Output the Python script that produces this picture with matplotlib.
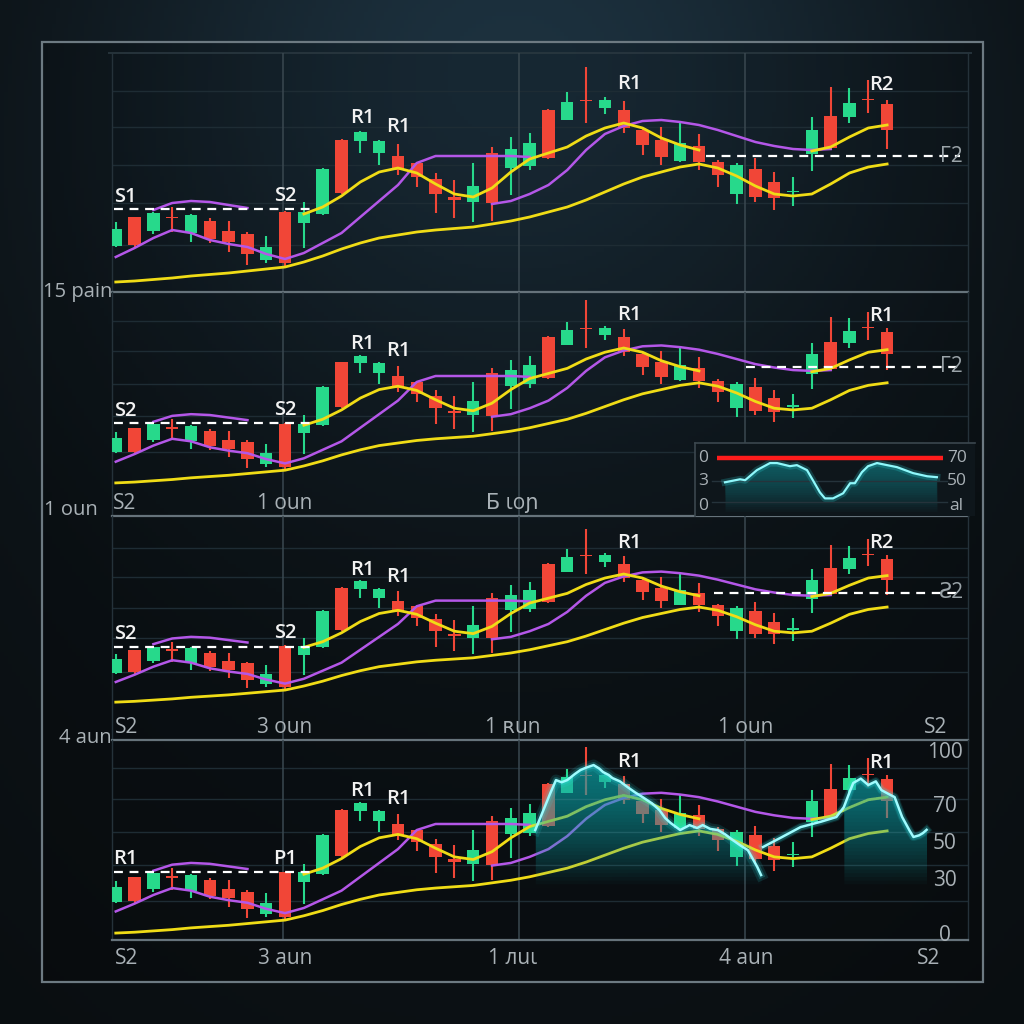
import numpy as np
import matplotlib
matplotlib.use("Agg")
import matplotlib.pyplot as plt
from matplotlib.patches import Rectangle
from matplotlib.transforms import blended_transform_factory

plt.rcParams['font.family'] = ['Open Sans', 'DejaVu Sans']

# ---------------- data ----------------
candle_open = [54, 83, 69, 82.5, 67, 79, 69, 66, 40, 88, 77, 86, 160, 159, 147, 144, 137, 121, 103, 98,
               147, 132, 134, 190, 180, 199.5, 192, 190, 170, 160, 139, 154, 138, 106, 131, 118, 108, 146,
               184, 183, 200.5, 196]
candle_close = [71, 55, 87, 82, 85, 61, 58, 46, 53, 37, 88, 131, 107, 168, 159, 130, 123, 106, 100, 114,
                97, 151, 157, 142, 198, 199, 200, 172, 155, 143, 157, 138, 125, 135, 103, 102, 108.5, 170,
                152, 197, 200, 170]
candle_high = [78, 83, 88, 93, 86, 82, 79, 68, 64, 89, 98, 132, 161, 169, 160, 156, 138, 127, 120, 137,
               153, 163, 167, 191, 208, 233, 203, 199, 172, 173, 177, 166, 140, 137, 142, 128, 123, 183,
               213, 212, 220, 200]
candle_low = [53, 52, 66, 68, 58, 57, 48, 35, 37, 32, 52, 85, 106, 147, 135, 125, 113, 87, 82, 78,
              79, 105, 130, 141, 180, 177, 186, 167, 145, 135, 138, 130, 113, 96, 98, 90, 94, 129,
              150, 177, 187, 151]

nan = np.nan
yellow_slow = [18, 19, 20.5, 22, 24, 25.5, 27, 29, 31, 33, 38, 44, 51, 57, 62, 65, 68, 70, 71.5, 73,
               76, 79, 83, 88, 93, 100, 108, 116, 123, 128, 133, 136, 132, 124, 114, 106, 104, 106,
               116, 127, 133, 136]
yellow_fast = [nan] * 10 + [86, 93, 104, 118, 128, 132, 127, 116, 106, 103, 112, 128, 141, 147, 153,
                            164, 172, 177, 172, 162, 155, 150] + [nan] * 5 + [149, 153, 163, 172, 175]
purple_fast = [43, 52, 62, 70, 67, 60, 56, 53, 46, 41, 47, 57, 67, 83, 99, 115, 137, 144, 144, 144,
               144, 144, 143] + [nan] * 19
purple_hump = [nan, nan, 90, 97, 99, 98, 95, 92] + [nan] * 34
purple_slow = [nan] * 20 + [96, 99, 106, 115, 130, 150, 166, 174, 179, 180, 178, 175, 170, 164, 158,
                            154, 151, 150, 151] + [nan] * 3

# support / resistance levels per panel
support_level = [91, 89, 87, 88.5]
resistance_level = [144, 155, 154, None]
resistance_start = [31.4, 33.5, 31.8, None]
resistance_tag = ["Γ2", "Γ2", "Ƨ2", None]

marker_x = [0.5, 9.0, 13.1, 15.0, 27.3, 40.7]
marker_p = [103, 104, 182, 173, 216, 215]
marker_text = [["S1", "S2", "R1", "R1", "R1", "R2"],
               ["S2", "S2", "R1", "R1", "R1", "R1"],
               ["S2", "S2", "R1", "R1", "R1", "R2"],
               ["R1", "P1", "R1", "R1", "R1", "R1"]]

side_labels = ["15 pain", "1 oun", "4 aun"]
bottom_labels = [None,
                 (["S2", "1 oun", "Ƃ ιοɲ"], [0.45, 9.0, 21.1]),
                 (["S2", "3 oun", "1 ʀun", "1 oun", "S2"], [0.6, 9.0, 21.1, 33.5, 43.6]),
                 (["S2", "3 aun", "1 лuι", "4 aun", "S2"], [0.6, 9.0, 21.1, 33.5, 43.2])]

# cyan oscillator overlay (panel 4)
cyan1_x = [22.3, 22.8, 23.1, 23.4, 23.7, 24.0, 24.4, 24.7, 25.0, 25.4, 25.7, 25.9, 26.2, 26.4, 26.8,
           27.2, 27.6, 28.0, 28.5, 28.9, 29.2, 29.5, 30.0, 30.3, 30.5, 30.9, 31.2, 31.6, 32.0, 32.4,
           32.8, 33.2, 33.6, 34.1, 34.3]
cyan1_v = [57.4, 70, 77.6, 84.7, 83.5, 84.7, 88, 90.2, 91.5, 92.9, 91, 89.1, 87.5, 85.8, 84, 80.9, 78,
           75.4, 72, 68.3, 64, 61.2, 57.4, 59, 60.1, 58.5, 60.1, 58, 57.4, 55, 51.9, 49, 46.4, 37.2, 32.8]
cyan2_x = [34.4, 35.4, 36.4, 37.5, 38.3, 38.7, 39.0, 39.2, 39.6, 40.0, 40.4, 40.7, 41.1, 41.4, 41.8,
           42.2, 42.4, 42.7, 42.9, 43.1]
cyan2_v = [48.1, 53.5, 59.0, 62, 64.5, 69.9, 78, 83.1, 85.5, 82, 84, 79.2, 77, 75.4, 64.5, 57, 53.6,
           54.5, 55.7, 57.5]
cyan_fill_from = [22.3, 38.6]
osc_ticks = [100, 70, 50, 30, 0]

# inset RSI (panel 2)
rsi_x = [10.7, 16.1, 17.9, 22.1, 26.8, 29.3, 33.9, 36.4, 40.0, 42.1, 44.6, 46.4, 49.3, 52.9, 55.4,
         57.1, 59.6, 61.8, 65.0, 68.6, 72.1, 77.9, 82.9, 86.4]
rsi_v = [49.1, 51.7, 50.9, 59.6, 65.7, 65.7, 63, 63.9, 59.6, 50.9, 40.4, 35.2, 35.2, 39.6, 48.3, 48.3,
         57.8, 63, 65.7, 63.9, 62.2, 57, 54.3, 53.5]
rsi_upper = 70
rsi_left_labels = ["0", "3", "0"]
rsi_right_labels = ["70", "50", "al"]
rsi_label_levels = [70, 50, 29]

# ---------------- styling ----------------
W = H = 1024
GREEN = '#27d98b'
RED = '#f14637'
PURPLE = '#b457e8'
YELLOW = '#f0dc16'
GRID_H = '#1e2c34'
GRID_V = '#3a4850'
SEP = '#66737b'
LABEL = '#a9b1b6'

fig = plt.figure(figsize=(10.24, 10.24), dpi=100)
fig.patch.set_facecolor('#0d1418')


def fig_rect(x0, y0, x1, y1):
    return [x0 / W, 1 - y1 / H, (x1 - x0) / W, (y1 - y0) / H]


# background gradient
bg = fig.add_axes([0, 0, 1, 1])
bg.set_xlim(0, W)
bg.set_ylim(H, 0)
bg.axis('off')
yy, xx = np.mgrid[0:H:4, 0:W:4].astype(float)
r = np.sqrt(((xx - 512) / 560) ** 2 + ((yy - 10) / 520) ** 2)
glow = np.exp(-1.6 * r ** 2)
edge = np.clip(np.sqrt(((xx - 512) / 700) ** 2 + ((yy - 512) / 700) ** 2), 0, 1)
base = np.array([13, 19, 23]) / 255
light = np.array([32, 55, 70]) / 255
img = base[None, None, :] + glow[..., None] * (light - base)[None, None, :]
img = img * (1 - 0.25 * edge[..., None] ** 2)
bg.imshow(np.clip(img, 0, 1), extent=(0, W, H, 0), aspect='auto', zorder=0)
bg.add_patch(Rectangle((42, 42), 941, 940, facecolor=(0, 0, 0, 0.18), edgecolor='#6d7a82', lw=1.6, zorder=1))
bg.hlines(53, 108, 972, color='#2a3840', lw=1.2, zorder=2)

panel_px = [(53, 292), (292, 516), (516, 740), (740, 940)]
panel_ylim = [(8, 247), (-21, 243), (-29, 249), (10, 241)]
XLIM = (-0.2, 45.3)
vgrid = [8.87, 21.43, 33.46]
hgrid = [55, 97, 135, 173, 209]

idx = np.arange(len(candle_open))
o = np.array(candle_open)
c = np.array(candle_close)
hi = np.array(candle_high)
lo = np.array(candle_low)
cols = [GREEN if cc > oo else RED for oo, cc in zip(o, c)]
body_bottom = np.minimum(o, c)
body_h = np.maximum(np.abs(c - o), 1.4)

axes = []
for k, (y0, y1) in enumerate(panel_px):
    ax = fig.add_axes(fig_rect(112, y0, 968, y1))
    ax.set_facecolor('none')
    ax.set_xlim(*XLIM)
    ax.set_ylim(*panel_ylim[k])
    for s in ['top', 'left', 'right']:
        ax.spines[s].set_color('#25323a')
        ax.spines[s].set_linewidth(1.0)
    ax.spines['top'].set_visible(False)
    ax.spines['bottom'].set_color(SEP)
    ax.spines['bottom'].set_linewidth(1.6)
    ax.tick_params(length=0, labelleft=False, labelbottom=False)
    for g in hgrid:
        ax.axhline(g, color=GRID_H, lw=1.0, zorder=0)
    for v in vgrid:
        ax.axvline(v, color=GRID_V, lw=1.1, zorder=0)

    # candles
    ax.vlines(idx, lo, hi, colors=cols, lw=1.5, zorder=3)
    ax.bar(idx, body_h, bottom=body_bottom, width=0.66, color=cols, zorder=3)

    # moving averages
    ax.plot(idx, yellow_slow, color=YELLOW, lw=2.0, zorder=4)
    ax.plot(idx, purple_fast, color=PURPLE, lw=1.8, zorder=4)
    ax.plot(idx, purple_hump, color=PURPLE, lw=1.8, zorder=4)
    ax.plot(idx, purple_slow, color=PURPLE, lw=1.8, zorder=4)
    ax.plot(idx, yellow_fast, color=YELLOW, lw=2.0, zorder=4)

    # support / resistance
    ax.hlines(support_level[k], -0.1, 10.3, colors='white', linestyles=(0, (4, 3)), lw=1.6, zorder=5)
    if resistance_level[k] is not None:
        ax.hlines(resistance_level[k], resistance_start[k], 44.9, colors='white',
                  linestyles=(0, (4, 3)), lw=1.6, zorder=5)
        ax.text(44.4, resistance_level[k], resistance_tag[k], color='#9aa3a8', fontsize=15,
                ha='center', va='center', zorder=6)

    for t, xm, pm in zip(marker_text[k], marker_x, marker_p):
        ax.text(xm, pm, t, color='#f2f2f2', fontsize=14.5, fontweight='semibold',
                ha='center', va='center', zorder=7)

    if bottom_labels[k] is not None:
        labs, xs = bottom_labels[k]
        ypos = -0.09 if k == 3 else 0.055
        tr = blended_transform_factory(ax.transData, ax.transAxes)
        for t, xv in zip(labs, xs):
            ax.text(xv, ypos, t, transform=tr, color=LABEL, fontsize=15, ha='center', va='center')
    axes.append(ax)

# side labels at panel separators
for t, yv, xr in zip(side_labels, [292, 510, 738], [112, 98, 112]):
    bg.text(xr, yv, t, color=LABEL, fontsize=14.5, ha='right', va='center', zorder=5)

# ---- panel 4 oscillator overlay ----
ax4 = axes[3]
ax4r = ax4.twinx()
ax4r.set_ylim(-2.7, 106.6)
ax4r.set_xlim(*XLIM)
for s in ax4r.spines.values():
    s.set_visible(False)
ax4r.tick_params(length=0, labelright=False)
for (xs, vs), xf in zip([(cyan1_x, cyan1_v), (cyan2_x, cyan2_v)], cyan_fill_from):
    xs = np.array(xs)
    vs = np.array(vs)
    m = xs >= xf
    for b in np.arange(28, 92, 2.0):
        ax4r.fill_between(xs[m], vs[m], b, where=vs[m] > b, color='#1fb3b8', alpha=0.035, lw=0,
                          zorder=2, interpolate=True)
    lwide = 8 if xf < 30 else 6
    ax4r.plot(xs, vs, color='#2fe6ea', lw=lwide, alpha=0.12, zorder=3)
    ax4r.plot(xs, vs, color='#2fe6ea', lw=4.5, alpha=0.22, zorder=3)
    ax4r.plot(xs, vs, color='#9ffcff', lw=1.8, zorder=4)
trr = blended_transform_factory(ax4r.transAxes, ax4r.transData)
for v in osc_ticks:
    ax4r.text(0.973, v, str(v), transform=trr, color=LABEL, fontsize=15, ha='center', va='center')

# ---- panel 2 inset RSI ----
axi = fig.add_axes(fig_rect(695, 443, 975, 516))
axi.set_facecolor('#0e161b')
axi.set_xlim(0, 100)
axi.set_ylim(20, 83)
for s in ['right', 'bottom']:
    axi.spines[s].set_visible(False)
for s in ['top', 'left']:
    axi.spines[s].set_color('#3b474e')
    axi.spines[s].set_linewidth(1.2)
axi.tick_params(length=0, labelleft=False, labelbottom=False)
axi.axhline(50, xmin=0.06, xmax=0.9, color='#25333b', lw=1)
axi.axhline(32, xmin=0.06, xmax=0.9, color='#25333b', lw=1)
rx = np.array(rsi_x)
rv = np.array(rsi_v)
for b in np.arange(24, 66, 2.0):
    axi.fill_between(rx, rv, b, where=rv > b, color='#1a9aa0', alpha=0.04, lw=0, interpolate=True)
axi.plot(rx, rv, color='#2fe6ea', lw=5, alpha=0.2)
axi.plot(rx, rv, color='#8ff8fb', lw=1.6)
axi.hlines(rsi_upper, 7.9, 88.6, color='#ff1c1c', lw=3.2)
for t, lv in zip(rsi_left_labels, rsi_label_levels):
    axi.text(3.0, lv, t, color=LABEL, fontsize=12.5, ha='center', va='center')
for t, lv in zip(rsi_right_labels, rsi_label_levels):
    axi.text(93.5, lv, t, color=LABEL, fontsize=12.5, ha='center', va='center')

fig.savefig('out.png', dpi=100, facecolor=fig.get_facecolor())
